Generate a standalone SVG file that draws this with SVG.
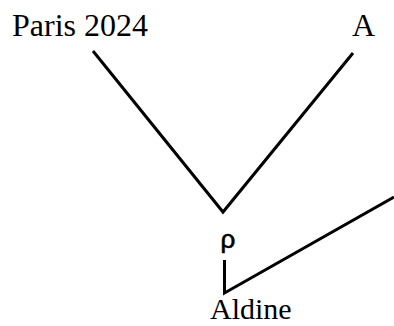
<svg xmlns="http://www.w3.org/2000/svg" width="394" height="326" viewBox="0 0 394 326">
  <style>
    .lbl { font-family: "Liberation Serif", "Times New Roman", serif; font-size: 32px; fill: #000; }
    .sym { font-family: "Liberation Sans", Arial, sans-serif; font-size: 26px; fill: #000; stroke: #000; stroke-width: 0.6; }
    .edge { stroke: #000; stroke-width: 3; fill: none; stroke-linecap: butt; stroke-linejoin: miter; }
  </style>
  <rect width="394" height="326" fill="#fff"/>
  <g id="connectors">
    <polyline class="edge" points="93,51 223,212 353,53"/>
    <polyline class="edge" points="224.5,260 224.5,293 394,197"/>
  </g>
  <g id="paris"><text class="lbl" x="12" y="36">Paris 2024</text></g>
  <g id="a"><text class="lbl" x="352" y="36">A</text></g>
  <g id="rho"><text class="sym" x="220.5" y="248">ρ</text></g>
  <g id="aldine"><text class="lbl" x="210" y="319" style="font-size:30px">Aldine</text></g>
</svg>
